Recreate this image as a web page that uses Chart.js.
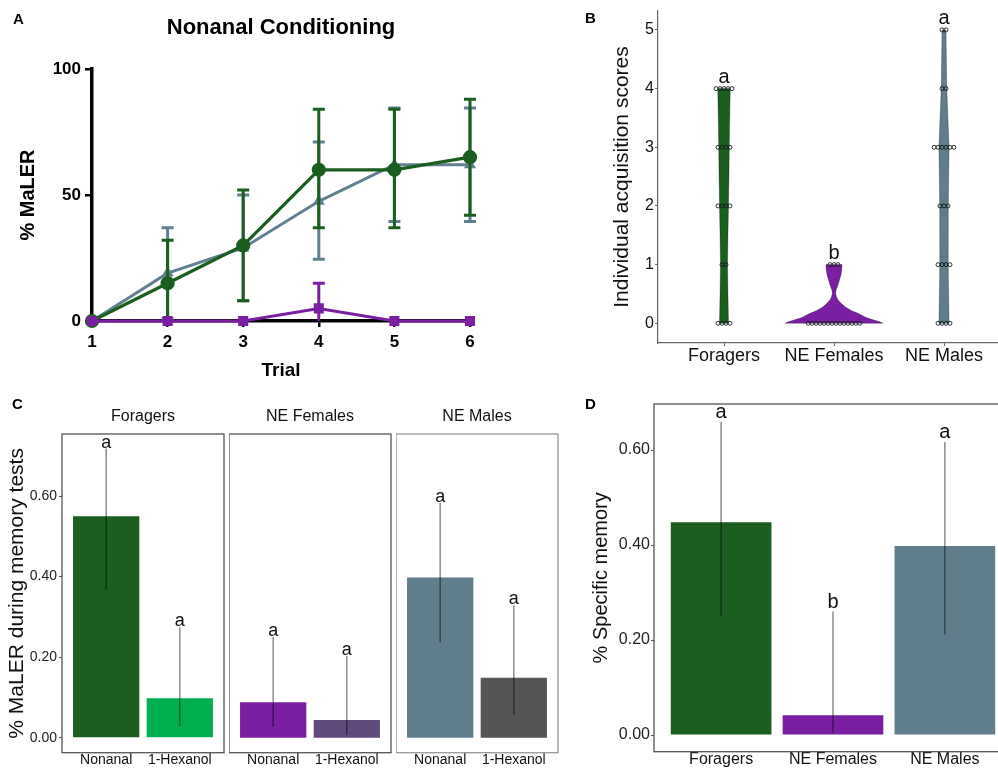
<!DOCTYPE html>
<html><head><meta charset="utf-8">
<script src="https://cdn.jsdelivr.net/npm/chart.js@4.4.0/dist/chart.umd.min.js"></script>
<style>
html,body{margin:0;padding:0;background:#fff;}
#root{position:relative;width:998px;height:768px;overflow:hidden;background:#fff;}
canvas{position:absolute;}
.lbl{position:absolute;font:bold 15px "Liberation Sans",Arial,sans-serif;line-height:15px;color:#000;}
</style></head><body>
<div id="root">
<canvas id="cA" width="500" height="385" style="left:0;top:0"></canvas>
<canvas id="cB" width="520" height="380" style="left:500px;top:0"></canvas>
<canvas id="cC1" width="226" height="388" style="left:0;top:380px"></canvas>
<canvas id="cC2" width="164" height="388" style="left:229px;top:380px"></canvas>
<canvas id="cC3" width="164" height="388" style="left:396px;top:380px"></canvas>
<canvas id="cD" width="440" height="388" style="left:580px;top:380px"></canvas>
<div class="lbl" style="left:13px;top:11px">A</div>
<div class="lbl" style="left:585px;top:10px">B</div>
<div class="lbl" style="left:12px;top:396px">C</div>
<div class="lbl" style="left:585px;top:396px">D</div>
</div>
<script>
// ---------- DATA ----------
// Panel A
const trials = [1, 2, 3, 4, 5, 6];
const foragersA = [0, 15, 30, 60, 60, 65];
const foragersAUpper = [0, 32, 52, 84, 84, 88];
const foragersALower = [0, 0, 8, 37, 37, 42];
const malesA = [0, 19, 29, 47.5, 62, 62];
const malesAUpper = [0, 37, 50, 71, 84.5, 84.5];
const malesALower = [0, 1, 8, 24.5, 39.5, 39.5];
const femalesA = [0, 0, 0, 5, 0, 0];
const femalesAUpper = [0, 0, 0, 15, 0, 0];
const femalesALower = [0, 0, 0, 0, 0, 0];
const yTicksA = [0, 50, 100];

// Panel B
const groups = ['Foragers', 'NE Females', 'NE Males'];
const scoreLevels = [0, 1, 2, 3, 4, 5];
const foragerCounts = [4, 2, 4, 4, 5, 0];
const femaleCounts = [14, 3, 0, 0, 0, 0];
const maleCounts = [4, 4, 3, 6, 2, 2];
const foragerViolinY = [0, 0.5, 1, 1.5, 2, 2.5, 3, 3.5, 4];
const foragerViolinW = [0.041, 0.036, 0.032, 0.036, 0.041, 0.045, 0.048, 0.052, 0.057];
const femaleViolinY = [0, 0.03, 0.06, 0.1, 0.17, 0.22, 0.28, 0.34, 0.4, 0.45, 0.51, 0.57, 0.63, 0.7, 0.77, 0.83, 0.88, 0.94, 1.0];
const femaleViolinW = [0.445, 0.409, 0.355, 0.291, 0.218, 0.155, 0.100, 0.064, 0.036, 0.023, 0.015, 0.020, 0.032, 0.044, 0.055, 0.064, 0.068, 0.072, 0.073];
const maleViolinY = [0, 1, 2, 3, 4, 5];
const maleViolinW = [0.046, 0.038, 0.039, 0.046, 0.025, 0.018];
const lettersB = ['a', 'b', 'a'];
const yTicksB = [0, 1, 2, 3, 4, 5];

// Panel C
const odors = ['Nonanal', '1-Hexanol'];
const foragersMem = [0.55, 0.098];
const foragersMemLo = [0.367, 0.029];
const foragersMemHi = [0.718, 0.274];
const femalesMem = [0.088, 0.044];
const femalesMemLo = [0.027, 0.007];
const femalesMemHi = [0.25, 0.203];
const malesMem = [0.398, 0.149];
const malesMemLo = [0.238, 0.056];
const malesMemHi = [0.583, 0.329];
const lettersC = ['a', 'a'];
const yTicksCD = [0, 0.2, 0.4, 0.6];

// Panel D
const specific = [0.448, 0.042, 0.398];
const specificLo = [0.251, 0.005, 0.212];
const specificHi = [0.659, 0.26, 0.617];
const lettersD = ['a', 'b', 'a'];

// ---------- STYLE ----------
const FF = '"Liberation Sans", Arial, sans-serif';
const FN = '"Liberation Sans Narrow", "Liberation Sans", Arial, sans-serif';
const GREEN = '#1b5e20', PURPLE = '#7b1fa2', SLATE = '#607d8b';
Chart.defaults.font.family = FF;
Chart.defaults.animation = false;
Chart.defaults.events = [];
Chart.defaults.responsive = false;
Chart.defaults.plugins.legend.display = false;
Chart.defaults.plugins.tooltip.enabled = false;

// ---------- PANEL A ----------
const errA = {
  id: 'errA',
  beforeDatasetDraw(chart, args) {
    const ds = chart.data.datasets[args.index];
    if (!ds.errUpper) return;
    const {ctx, scales: {x, y}} = chart;
    const cap = 6;
    ctx.save();
    ctx.strokeStyle = ds.borderColor; ctx.lineWidth = 3;
    ds.data.forEach((p, i) => {
      const up = ds.errUpper[i], lo = ds.errLower[i];
      if (up === p.y && lo === p.y) return;
      const px = x.getPixelForValue(p.x);
      const yu = y.getPixelForValue(up), yl = y.getPixelForValue(lo);
      ctx.beginPath();
      ctx.moveTo(px, yu); ctx.lineTo(px, yl);
      if (up > p.y) { ctx.moveTo(px - cap, yu); ctx.lineTo(px + cap, yu); }
      if (lo < p.y && lo > 0) { ctx.moveTo(px - cap, yl); ctx.lineTo(px + cap, yl); }
      ctx.stroke();
    });
    ctx.restore();
  }
};
const pts = arr => trials.map((t, i) => ({x: t, y: arr[i]}));
new Chart(document.getElementById('cA'), {
  type: 'line',
  data: {datasets: [
    {label: 'NE Females', data: pts(femalesA), errUpper: femalesAUpper, errLower: femalesALower,
     borderColor: PURPLE, backgroundColor: PURPLE, borderWidth: 3, pointStyle: 'rect', pointRadius: 5, order: 0, clip: false},
    {label: 'Foragers', data: pts(foragersA), errUpper: foragersAUpper, errLower: foragersALower,
     borderColor: GREEN, backgroundColor: GREEN, borderWidth: 3.2, pointStyle: 'circle', pointRadius: 5.5, order: 1, clip: false},
    {label: 'NE Males', data: pts(malesA), errUpper: malesAUpper, errLower: malesALower,
     borderColor: '#62808f', backgroundColor: '#62808f', borderWidth: 3, pointStyle: 'triangle', pointRadius: 4, order: 2, clip: false}
  ]},
  options: {
    layout: {padding: {left: 0, right: 30, top: 0, bottom: 0}},
    plugins: {title: {display: true, text: 'Nonanal Conditioning', fullSize: false, color: '#000',
      font: {family: FF, size: 22, weight: 'bold'}, padding: {top: 14.8, bottom: 27.8}}},
    scales: {
      x: {type: 'linear', min: 1, max: 6,
        afterFit(s) { s.height = 64; },
        afterBuildTicks(s) { s.ticks = trials.map(v => ({value: v})); },
        ticks: {color: '#000', font: {family: FF, size: 17, weight: 'bold'}, padding: 5},
        grid: {drawOnChartArea: false, tickLength: 6, color: '#000', lineWidth: 2.5},
        border: {color: '#000', width: 3.5},
        title: {display: true, text: 'Trial', color: '#000', font: {family: FF, size: 19, weight: 'bold'}, padding: {top: 0, bottom: 3}}},
      y: {min: 0, max: 100,
        afterFit(s) { s.width = 92; },
        afterBuildTicks(s) { s.ticks = yTicksA.map(v => ({value: v})); },
        ticks: {color: '#000', font: {family: FF, size: 17, weight: 'bold'}, padding: 4},
        grid: {drawOnChartArea: false, tickLength: 7, color: '#000', lineWidth: 2.5},
        border: {color: '#000', width: 3.5},
        title: {display: true, text: '% MaLER', color: '#000', font: {family: FF, size: 20, weight: 'bold'}, padding: {top: 16, bottom: 0}}}
    }
  },
  plugins: [errA]
});

// ---------- PANEL B ----------
const colorsB = [GREEN, PURPLE, SLATE];
const violins = [
  {ys: foragerViolinY, w: foragerViolinW},
  {ys: femaleViolinY, w: femaleViolinW},
  {ys: maleViolinY, w: maleViolinW}
];
const countsB = [foragerCounts, femaleCounts, maleCounts];
const dotStep = 0.036;
function dotData(gi) {
  const out = [];
  countsB[gi].forEach((n, s) => {
    for (let k = 0; k < n; k++) out.push({x: gi + 1 + (k - (n - 1) / 2) * dotStep, y: scoreLevels[s]});
  });
  return out;
}
const violinPlugin = {
  id: 'violins',
  beforeDatasetsDraw(chart) {
    const {ctx, scales: {x, y}} = chart;
    violins.forEach((v, gi) => {
      const c = gi + 1;
      ctx.save();
      ctx.beginPath();
      v.ys.forEach((yy, k) => {
        const px = x.getPixelForValue(c + v.w[k]), py = y.getPixelForValue(yy);
        if (k) ctx.lineTo(px, py); else ctx.moveTo(px, py);
      });
      for (let k = v.ys.length - 1; k >= 0; k--) ctx.lineTo(x.getPixelForValue(c - v.w[k]), y.getPixelForValue(v.ys[k]));
      ctx.closePath();
      ctx.fillStyle = colorsB[gi]; ctx.fill();
      ctx.strokeStyle = 'rgba(0,0,0,0.35)'; ctx.lineWidth = 0.8; ctx.stroke();
      ctx.restore();
    });
  },
  afterDatasetsDraw(chart) {
    const {ctx, scales: {x, y}} = chart;
    ctx.save();
    ctx.fillStyle = '#111'; ctx.font = '20px ' + FF; ctx.textAlign = 'center'; ctx.textBaseline = 'alphabetic';
    countsB.forEach((cnt, gi) => {
      let top = 0; cnt.forEach((n, s) => { if (n > 0) top = scoreLevels[s]; });
      ctx.fillText(lettersB[gi], x.getPixelForValue(gi + 1), y.getPixelForValue(top) - 6);
    });
    ctx.restore();
  }
};
new Chart(document.getElementById('cB'), {
  type: 'scatter',
  data: {datasets: groups.map((g, gi) => ({label: g, data: dotData(gi), pointRadius: 2,
    borderColor: 'rgba(20,30,30,0.9)', borderWidth: 1, backgroundColor: 'rgba(0,0,0,0)', clip: false}))},
  options: {
    layout: {padding: {left: 0, right: 10, top: 11, bottom: 0}},
    scales: {
      x: {type: 'linear', min: 0.4, max: 3.6, offset: false,
        afterFit(s) { s.height = 37; },
        afterBuildTicks(s) { s.ticks = groups.map((g, i) => ({value: i + 1})); },
        ticks: {color: '#111', font: {family: FF, size: 18, lineHeight: 1}, padding: 1, callback: v => groups[v - 1]},
        grid: {drawOnChartArea: false, tickLength: 3, color: '#666', lineWidth: 1},
        border: {color: '#666', width: 1.2}},
      y: {min: -0.336, max: 5.323,
        afterFit(s) { s.width = 158; },
        afterBuildTicks(s) { s.ticks = yTicksB.map(v => ({value: v})); },
        ticks: {color: '#111', font: {family: FF, size: 16}, padding: 1},
        grid: {drawOnChartArea: false, tickLength: 3, color: '#666', lineWidth: 1},
        border: {color: '#666', width: 1.2},
        title: {display: true, text: 'Individual acquisition scores', color: '#111', font: {family: FF, size: 21}, padding: {top: 109.4, bottom: 0}}}
    }
  },
  plugins: [violinPlugin]
});

// ---------- BAR PANELS (C, D) ----------
function barPlugin(boxColor, letterSize, letterGap) {
  return {
    id: 'barExtras',
    afterDatasetsDraw(chart) {
      const {ctx, scales: {x, y}, chartArea: a} = chart;
      const ds = chart.data.datasets[0];
      ctx.save();
      ds.data.forEach((p, i) => {
        const px = x.getPixelForValue(p.x);
        ctx.strokeStyle = 'rgba(0,0,0,0.45)'; ctx.lineWidth = 1.5;
        ctx.beginPath();
        ctx.moveTo(px, y.getPixelForValue(ds.errLo[i]));
        ctx.lineTo(px, y.getPixelForValue(ds.errHi[i]));
        ctx.stroke();
        ctx.fillStyle = '#111'; ctx.font = letterSize + 'px ' + FF; ctx.textAlign = 'center'; ctx.textBaseline = 'alphabetic';
        ctx.fillText(ds.letters[i], px, y.getPixelForValue(ds.errHi[i]) - letterGap);
      });
      ctx.strokeStyle = boxColor; ctx.lineWidth = 1.3;
      ctx.strokeRect(a.left, a.top, a.right - a.left, a.bottom - a.top);
      ctx.restore();
    }
  };
}

function facet(id, title, vals, lo, hi, colors, showY, boxColor) {
  new Chart(document.getElementById(id), {
    type: 'bar',
    data: {datasets: [{label: title, data: odors.map((o, i) => ({x: i + 1, y: vals[i]})),
      errLo: lo, errHi: hi, letters: lettersC,
      backgroundColor: colors, borderWidth: 0, barPercentage: 0.9, categoryPercentage: 1}]},
    options: {
      layout: {padding: {left: 0, right: 2, top: 0, bottom: 0}},
      plugins: {title: {display: true, text: title, fullSize: false, color: '#111',
        font: {family: FF, size: 16, weight: 'normal'}, padding: {top: 27.4, bottom: 7.4}}},
      scales: {
        x: {type: 'linear', min: 0.4, max: 2.6, offset: false,
          afterFit(s) { s.height = 15.3; },
          afterBuildTicks(s) { s.ticks = odors.map((o, i) => ({value: i + 1})); },
          ticks: {color: '#111', font: {family: FN, size: 14, lineHeight: 1}, padding: 0, callback: v => odors[v - 1]},
          grid: {display: false, drawTicks: false, offset: false},
          border: {display: false}},
        y: {display: showY, min: -0.037, max: 0.754,
          afterFit(s) { if (showY) s.width = 62; },
          afterBuildTicks(s) { s.ticks = yTicksCD.map(v => ({value: v})); },
          ticks: {color: '#222', font: {family: FN, size: 14}, padding: 2, callback: v => v.toFixed(2)},
          grid: {drawOnChartArea: false, tickLength: 3, color: '#555'},
          border: {display: false},
          title: {display: showY, text: '% MaLER during memory tests', color: '#111', font: {family: FF, size: 21}, padding: {top: 4.4, bottom: 0}}}
      }
    },
    plugins: [barPlugin(boxColor, 18, 1)]
  });
}
facet('cC1', 'Foragers', foragersMem, foragersMemLo, foragersMemHi, [GREEN, '#00b04f'], true, '#555');
facet('cC2', 'NE Females', femalesMem, femalesMemLo, femalesMemHi, [PURPLE, '#5f4a7c'], false, '#555');
facet('cC3', 'NE Males', malesMem, malesMemLo, malesMemHi, [SLATE, '#555555'], false, '#999');

new Chart(document.getElementById('cD'), {
  type: 'bar',
  data: {datasets: [{label: 'Specific memory', data: groups.map((g, i) => ({x: i + 1, y: specific[i]})),
    errLo: specificLo, errHi: specificHi, letters: lettersD,
    backgroundColor: colorsB, borderWidth: 0, barPercentage: 0.9, categoryPercentage: 1}]},
  options: {
    layout: {padding: {left: 0, right: 8, top: 24, bottom: 0}},
    scales: {
      x: {type: 'linear', min: 0.4, max: 3.6, offset: false,
        afterFit(s) { s.height = 16.3; },
        afterBuildTicks(s) { s.ticks = groups.map((g, i) => ({value: i + 1})); },
        ticks: {color: '#111', font: {family: FF, size: 16, lineHeight: 1}, padding: 0, callback: v => groups[v - 1]},
        grid: {display: false, drawTicks: false, offset: false},
        border: {display: false}},
      y: {min: -0.035, max: 0.697,
        afterFit(s) { s.width = 74; },
        afterBuildTicks(s) { s.ticks = yTicksCD.map(v => ({value: v})); },
        ticks: {color: '#222', font: {family: FF, size: 16}, padding: 1, callback: v => v.toFixed(2)},
        grid: {drawOnChartArea: false, tickLength: 3, color: '#555'},
        border: {display: false},
        title: {display: true, text: '% Specific memory', color: '#111', font: {family: FF, size: 20}, padding: {top: 9.7, bottom: 0}}}
    }
  },
  plugins: [barPlugin('#555', 20, 4)]
});
</script>
</body></html>
